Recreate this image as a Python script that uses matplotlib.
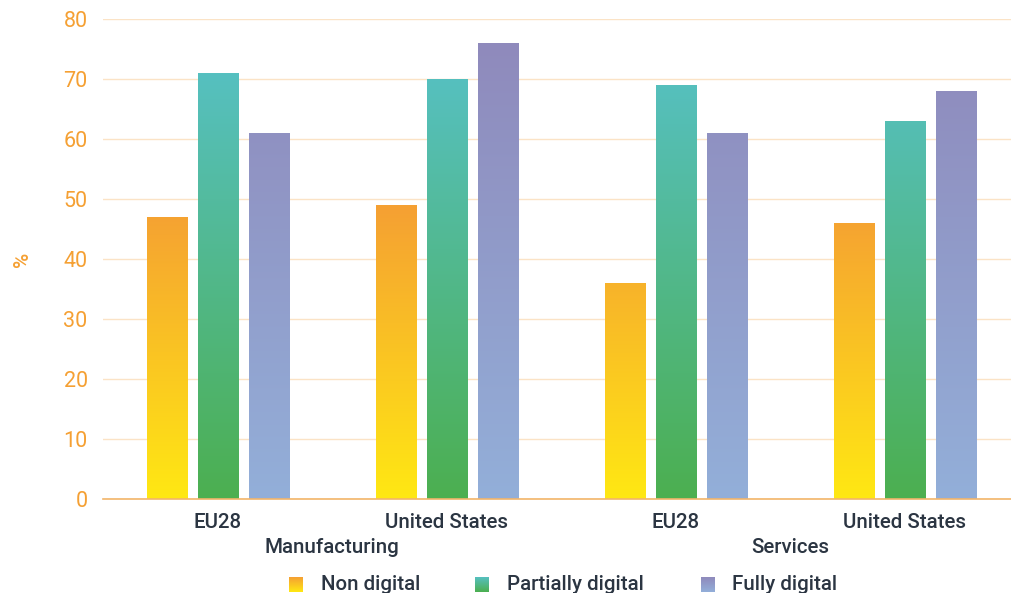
import numpy as np
import matplotlib
matplotlib.use("Agg")
import matplotlib.pyplot as plt
from matplotlib.colors import LinearSegmentedColormap
from matplotlib.patches import Rectangle

plt.rcParams['font.family'] = ['Roboto', 'DejaVu Sans']

# data
groups = ['Manufacturing', 'Services']
regions = ['EU28', 'United States', 'EU28', 'United States']
series = ['Non digital', 'Partially digital', 'Fully digital']
non_digital = [47, 49, 36, 46]
partially_digital = [71, 70, 69, 63]
fully_digital = [61, 76, 61, 68]
values = [non_digital, partially_digital, fully_digital]

# gradient ends (bottom, top) for each series
grad = [('#ffe813', '#f5a033'), ('#4caf50', '#56c0c0'), ('#93afd9', '#8f8abc')]

text_col = '#2b3542'
orange = '#f5a033'

fig = plt.figure(figsize=(10.11, 5.93), dpi=100)
ax = fig.add_axes([103/1011, 94/593, (1011-103)/1011, 480/593])

x = np.arange(len(regions))
width = 0.175
offset = 0.2227

for i, vals in enumerate(values):
    bot, top = grad[i]
    vmax = max(vals)
    cmap = LinearSegmentedColormap.from_list('g', [bot, top])
    for j, v in enumerate(vals):
        xc = x[j] + (i - 1) * offset + 0.002
        # shorter bars end on a lighter tone
        c_top = cmap(v / vmax)
        cm2 = LinearSegmentedColormap.from_list('g2', [bot, c_top])
        rect = Rectangle((xc - width/2, 0), width, v, facecolor='none', edgecolor='none')
        ax.add_patch(rect)
        img = ax.imshow(np.linspace(0, 1, 256).reshape(-1, 1), cmap=cm2, origin='lower',
                        extent=[xc - width/2, xc + width/2, 0, v], aspect='auto', zorder=2)
        img.set_clip_path(rect)

ax.set_xlim(-0.5, 3.5 - 8/229)
ax.set_ylim(0, 80)
ax.set_yticks(range(0, 81, 10))
ax.set_xticks(x)
ax.set_xticklabels(regions, fontsize=14.8, fontweight='medium', color=text_col)
ax.tick_params(axis='x', length=0, pad=10)
ax.tick_params(axis='y', length=0, labelsize=15.5, labelcolor=orange, pad=11)
ax.grid(axis='y', color='#fbe3c6', linewidth=1, zorder=0)
ax.set_axisbelow(True)
for s in ['top', 'right', 'left']:
    ax.spines[s].set_visible(False)
ax.spines['bottom'].set_color('#f2b56a')
ax.spines['bottom'].set_linewidth(1.2)
ax.spines['bottom'].set_zorder(3)

ax.set_ylabel('%', color=orange, fontsize=15, fontweight='medium')
ax.yaxis.set_label_coords(-0.078, 0.5)

# group labels under the region ticks
for k, g in enumerate(groups):
    ax.text(2*k + 0.5, -0.102, g, transform=ax.get_xaxis_transform(), ha='center', va='center',
            fontsize=14.8, fontweight='medium', color=text_col)

# legend with gradient squares
leg_sq = [289, 475, 701]
leg_tx = [321, 507, 732]
for i, name in enumerate(series):
    bot, top = grad[i]
    cm = LinearSegmentedColormap.from_list('l', [bot, top])
    lax = fig.add_axes([leg_sq[i]/1011, (593-592)/593, 14/1011, 15/593])
    lax.imshow(np.linspace(0, 1, 64).reshape(-1, 1), cmap=cm, origin='lower', aspect='auto')
    lax.axis('off')
    fig.text(leg_tx[i]/1011, (593-584)/593, name, ha='left', va='center',
             fontsize=14.8, fontweight='medium', color=text_col)

fig.savefig('out.png', dpi=100)
